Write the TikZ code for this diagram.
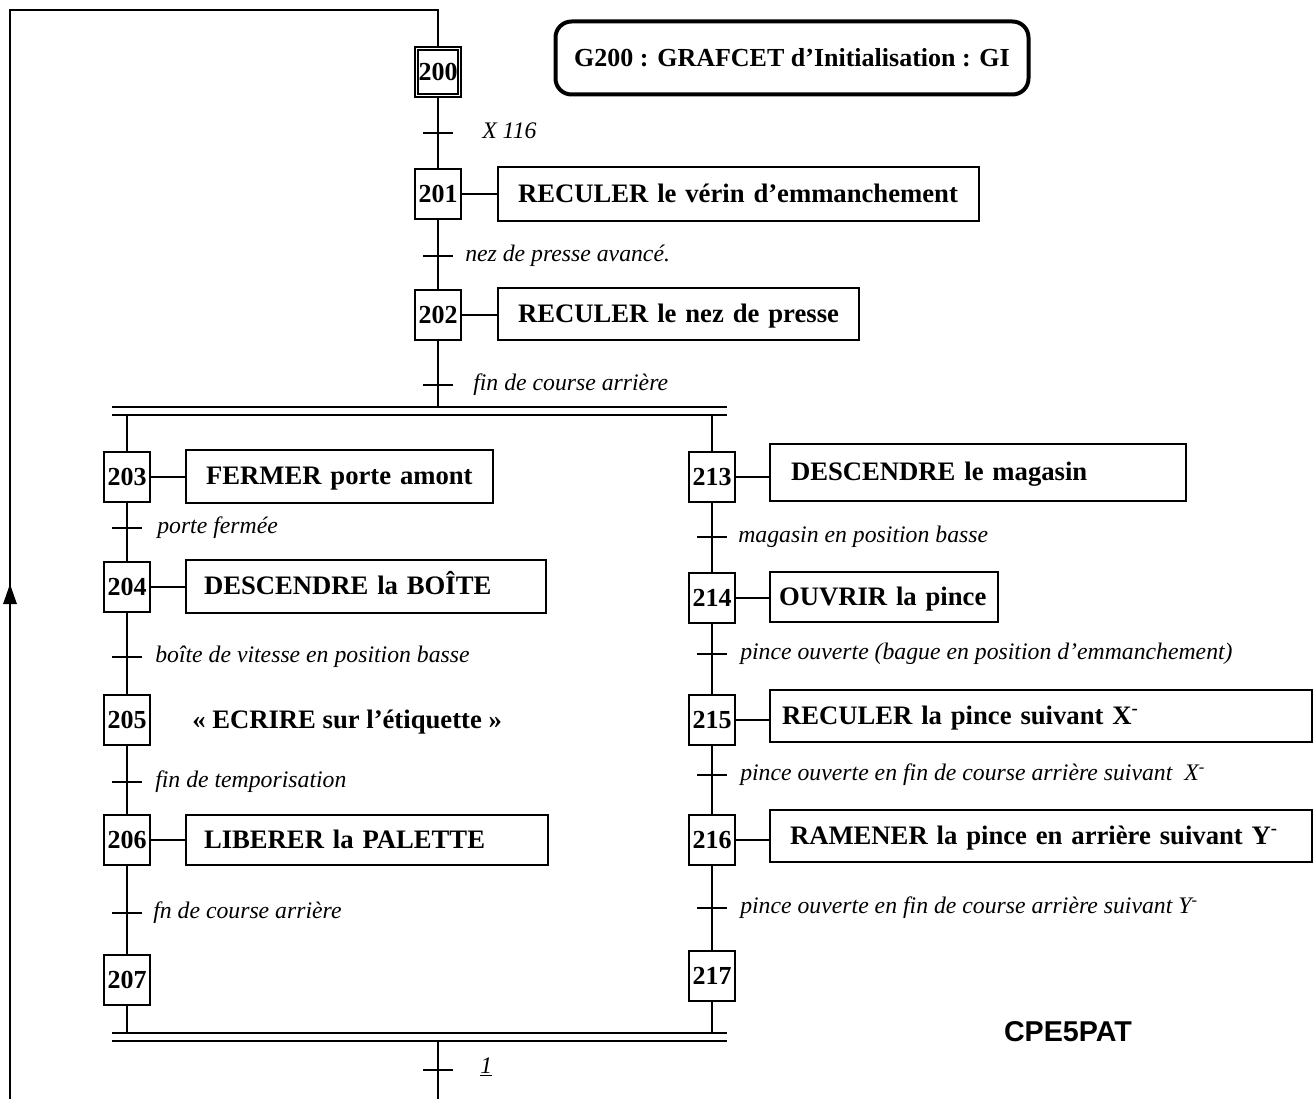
\documentclass[tikz,border=0pt]{standalone}
\usepackage{fontspec}
\setmainfont{Liberation Serif}
\newfontfamily\sansbold{Liberation Sans}
\usetikzlibrary{arrows.meta,calc}
\tikzset{
  ln/.style={line width=1.5pt},
  stepbox/.style={draw, line width=1.5pt, minimum width=34.5pt, minimum height=37.5pt, inner sep=0pt, text height=12.8pt, text depth=0pt, font=\bfseries\fontsize{19.5}{21}\selectfont},
  act/.style={draw, line width=1.5pt, anchor=west, align=left, text height=16pt, text depth=2.8pt, font=\bfseries\fontsize{20}{22}\selectfont},
  cond/.style={anchor=west, inner sep=0pt, text height=12pt, text depth=3.9pt, font=\itshape\fontsize{17.8}{20}\selectfont},
}
\newcommand\trtick[1]{\draw[ln] ([xshift=-11pt]#1) -- ([xshift=11pt]#1);}
\begin{document}
\begin{tikzpicture}[x=0.75pt,y=-0.75pt]
\useasboundingbox (0,0) rectangle (1314,1099);

% title
\node[draw, line width=3pt, rounded corners=12pt, minimum width=354.75pt, minimum height=54.75pt,
      text height=15pt, text depth=2.5pt,
      font=\bfseries\fontsize{19.5}{21}\selectfont] (title) at (792,58) {G200 : GRAFCET d’Initialisation : GI};

% central column
\node[stepbox] (s200) at (438,72) {200};
\draw[line width=1.2pt] ($(s200.north west)+(3pt,-3pt)$) rectangle ($(s200.south east)+(-3pt,3pt)$);
\node[stepbox] (s201) at (438,194) {201};
\node[stepbox] (s202) at (438,315) {202};

\node[act, text width=330.75pt, inner xsep=15pt, minimum height=40.5pt] (a201) at (497,194) {RECULER le vérin d’emmanchement};
\node[act, text width=240.75pt, inner xsep=15pt, minimum height=39pt] (a202) at (497,314) {RECULER le nez de presse};
\draw[ln] (s201.east) -- (s201.east -| a201.west);
\draw[ln] (s202.east) -- (s202.east -| a202.west);

\coordinate (t1) at (438,133);
\coordinate (t2) at (438,256);
\coordinate (t3) at (438,385);
\draw[ln] (s200.south) -- (s201.north);
\draw[ln] (s201.south) -- (s202.north);
\trtick{t1} \trtick{t2} \trtick{t3}
\node[cond] (c1) at (482,133) {X 116};
\node[cond] (c2) at (465,256) {nez de presse avancé.};
\node[cond] (c3) at (473,385) {fin de course arrière};

% divergence AND
\coordinate (d1L) at (112,407); \coordinate (d1R) at (727,407);
\coordinate (d2L) at (112,415); \coordinate (d2R) at (727,415);
\coordinate (dtop) at (438,407);
\draw[ln] (s202.south) -- (dtop);
\draw[ln] (d1L) -- (d1R);
\draw[ln] (d2L) -- (d2R);

% left branch
\node[stepbox] (s203) at (127,477) {203};
\node[stepbox] (s204) at (127,587) {204};
\node[stepbox] (s205) at (127,720) {205};
\node[stepbox] (s206) at (127,840) {206};
\node[stepbox] (s207) at (127,980) {207};
\coordinate (bL) at (127,415);
\draw[ln] (bL) -- (s203.north);
\draw[ln] (s203.south) -- (s204.north);
\draw[ln] (s204.south) -- (s205.north);
\draw[ln] (s205.south) -- (s206.north);
\draw[ln] (s206.south) -- (s207.north);

\node[act, text width=200.25pt, inner xsep=15pt, minimum height=39.75pt] (a203) at (185,476) {FERMER porte amont};
\node[act, text width=243pt, inner xsep=13.5pt, minimum height=39.75pt] (a204) at (185,586) {DESCENDRE la BOÎTE};
\node[anchor=west, inner sep=0pt, text height=16pt, text depth=2.8pt, font=\bfseries\fontsize{20}{22}\selectfont] (a205) at (192,720) {«~ECRIRE sur l’étiquette~»};
\node[act, text width=244.5pt, inner xsep=13.5pt, minimum height=37.5pt] (a206) at (185,840) {LIBERER la PALETTE};
\draw[ln] (s203.east) -- (s203.east -| a203.west);
\draw[ln] (s204.east) -- (s204.east -| a204.west);
\draw[ln] (s206.east) -- (s206.east -| a206.west);

\coordinate (t4) at (127,528);
\coordinate (t5) at (127,657);
\coordinate (t6) at (127,782);
\coordinate (t7) at (127,913);
\trtick{t4} \trtick{t5} \trtick{t6} \trtick{t7}
\node[cond] (c4) at (157,528) {porte fermée};
\node[cond] (c5) at (155,657) {boîte de vitesse en position basse};
\node[cond] (c6) at (155,782) {fin de temporisation};
\node[cond] (c7) at (153,913) {fn de course arrière};

% right branch
\node[stepbox] (s213) at (712,477) {213};
\node[stepbox] (s214) at (712,598) {214};
\node[stepbox] (s215) at (712,720) {215};
\node[stepbox] (s216) at (712,840) {216};
\node[stepbox] (s217) at (712,976) {217};
\coordinate (bR) at (712,415);
\draw[ln] (bR) -- (s213.north);
\draw[ln] (s213.south) -- (s214.north);
\draw[ln] (s214.south) -- (s215.north);
\draw[ln] (s215.south) -- (s216.north);
\draw[ln] (s216.south) -- (s217.north);

\node[act, text width=280.5pt, inner xsep=15.75pt, minimum height=42.75pt] (a213) at (769,472) {DESCENDRE le magasin};
\node[act, text width=157.5pt, inner xsep=6.75pt, minimum height=37.5pt] (a214) at (769,597) {OUVRIR la pince};
\node[act, text width=388.5pt, inner xsep=9pt, minimum height=39pt] (a215) at (769,716) {RECULER la pince suivant X\textsuperscript{-}};
\node[act, text width=376.5pt, inner xsep=15pt, minimum height=39pt] (a216) at (769,836) {RAMENER la pince en arrière suivant Y\textsuperscript{-}};
\draw[ln] (s213.east) -- (s213.east -| a213.west);
\draw[ln] (s214.east) -- (s214.east -| a214.west);
\draw[ln] (s215.east) -- (s215.east -| a215.west);
\draw[ln] (s216.east) -- (s216.east -| a216.west);

\coordinate (t8) at (712,537);
\coordinate (t9) at (712,654);
\coordinate (t10) at (712,775);
\coordinate (t11) at (712,908);
\trtick{t8} \trtick{t9} \trtick{t10} \trtick{t11}
\node[cond] (c8) at (738,537) {magasin en position basse};
\node[cond] (c9) at (740,654) {pince ouverte (bague en position d’emmanchement)};
\node[cond] (c10) at (740,775) {pince ouverte en fin de course arrière suivant~ X\textsuperscript{-}};
\node[cond] (c11) at (740,908) {pince ouverte en fin de course arrière suivant Y\textsuperscript{-}};

% convergence AND
\coordinate (e1L) at (112,1033); \coordinate (e1R) at (727,1033);
\coordinate (e2L) at (112,1041); \coordinate (e2R) at (727,1041);
\coordinate (eL) at (127,1033); \coordinate (eR) at (712,1033);
\coordinate (ebot) at (438,1041);
\draw[ln] (s207.south) -- (eL);
\draw[ln] (s217.south) -- (eR);
\draw[ln] (e1L) -- (e1R);
\draw[ln] (e2L) -- (e2R);
\coordinate (t12) at (438,1070);
\coordinate (outB) at (438,1099);
\draw[ln] (ebot) -- (outB);
\trtick{t12}
\node[cond] (c12) at (480,1068) {\underline{1}};

% loop back
\coordinate (lB) at (10,1099);
\coordinate (lArr) at (10,584);
\coordinate (lArr2) at (10,600);
\coordinate (lT) at (10,10);
\coordinate (lT2) at (438,10);
\draw[ln, -{Triangle[length=15pt,width=10pt]}] (lB) -- (lArr);
\draw[ln] (lArr2) -- (lT) -- (lT2) -- (s200.north);

% tag
\node[font=\sansbold\bfseries\fontsize{21.5}{24}\selectfont] (tag) at (1068,1032) {CPE5PAT};
\end{tikzpicture}
\end{document}
